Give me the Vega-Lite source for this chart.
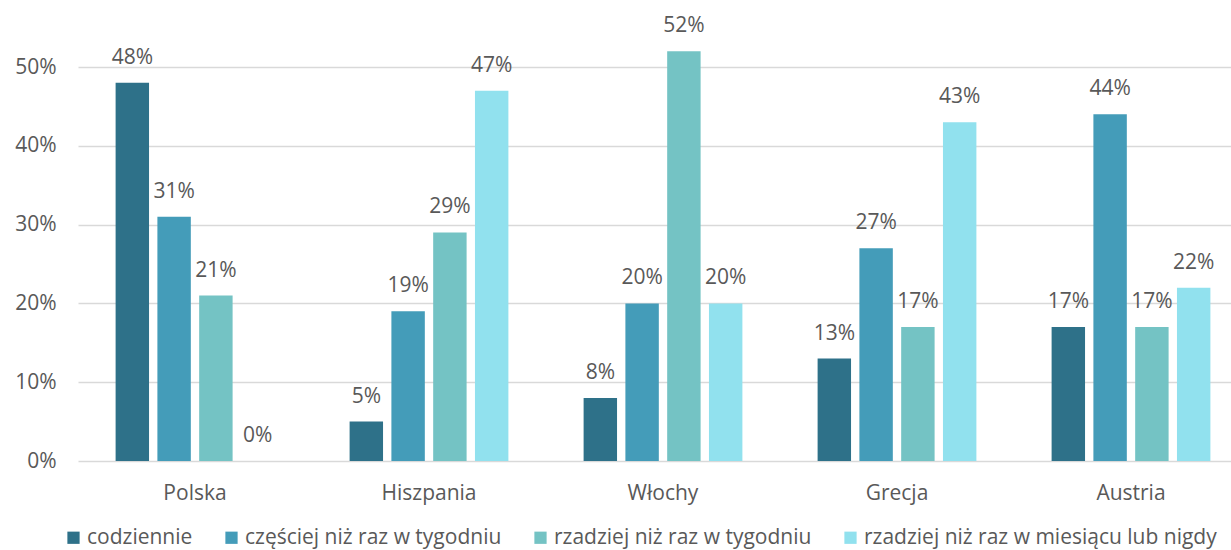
{
  "$schema": "https://vega.github.io/schema/vega-lite/v6.json",
  "autosize": {"type": "none"},
  "padding": {"left": 78, "top": 67, "right": 0, "bottom": 89},
  "width": 1153,
  "height": 394,
  "background": "white",
  "config": {
    "view": {"stroke": null},
    "font": "Open Sans",
    "text": {"font": "Open Sans"}
  },
  "data": {
    "values": [
      {"kraj": "Polska", "kat": "codziennie", "v": 0.48},
      {"kraj": "Polska", "kat": "częściej niż raz w tygodniu", "v": 0.31},
      {"kraj": "Polska", "kat": "rzadziej niż raz w tygodniu", "v": 0.21},
      {"kraj": "Polska", "kat": "rzadziej niż raz w miesiącu lub nigdy", "v": 0.0},
      {"kraj": "Hiszpania", "kat": "codziennie", "v": 0.05},
      {"kraj": "Hiszpania", "kat": "częściej niż raz w tygodniu", "v": 0.19},
      {"kraj": "Hiszpania", "kat": "rzadziej niż raz w tygodniu", "v": 0.29},
      {"kraj": "Hiszpania", "kat": "rzadziej niż raz w miesiącu lub nigdy", "v": 0.47},
      {"kraj": "Włochy", "kat": "codziennie", "v": 0.08},
      {"kraj": "Włochy", "kat": "częściej niż raz w tygodniu", "v": 0.20},
      {"kraj": "Włochy", "kat": "rzadziej niż raz w tygodniu", "v": 0.52},
      {"kraj": "Włochy", "kat": "rzadziej niż raz w miesiącu lub nigdy", "v": 0.20},
      {"kraj": "Grecja", "kat": "codziennie", "v": 0.13},
      {"kraj": "Grecja", "kat": "częściej niż raz w tygodniu", "v": 0.27},
      {"kraj": "Grecja", "kat": "rzadziej niż raz w tygodniu", "v": 0.17},
      {"kraj": "Grecja", "kat": "rzadziej niż raz w miesiącu lub nigdy", "v": 0.43},
      {"kraj": "Austria", "kat": "codziennie", "v": 0.17},
      {"kraj": "Austria", "kat": "częściej niż raz w tygodniu", "v": 0.44},
      {"kraj": "Austria", "kat": "rzadziej niż raz w tygodniu", "v": 0.17},
      {"kraj": "Austria", "kat": "rzadziej niż raz w miesiącu lub nigdy", "v": 0.22}
    ]
  },
  "encoding": {
    "x": {
      "field": "kraj", "type": "nominal",
      "sort": ["Polska", "Hiszpania", "Włochy", "Grecja", "Austria"],
      "scale": {"range": [0, 1170], "paddingInner": 0, "paddingOuter": 0},
      "axis": {"title": null, "labelAngle": 0, "ticks": false, "domain": false, "labelPadding": 21, "labelFontSize": 21, "labelColor": "#595959", "labelFont": "Open Sans"}
    },
    "xOffset": {
      "field": "kat", "type": "nominal",
      "sort": ["codziennie", "częściej niż raz w tygodniu", "rzadziej niż raz w tygodniu", "rzadziej niż raz w miesiącu lub nigdy"],
      "scale": {"paddingInner": 0.2, "paddingOuter": 0.9}
    },
    "y": {
      "field": "v", "type": "quantitative",
      "scale": {"domain": [0, 0.5], "nice": false},
      "axis": {"title": null, "format": ".0%", "values": [0, 0.1, 0.2, 0.3, 0.4, 0.5], "ticks": false, "domain": false, "labelPadding": 22, "labelFontSize": 21, "labelColor": "#595959", "labelFont": "Open Sans", "gridColor": "#D9D9D9", "gridWidth": 1.3}
    }
  },
  "layer": [
    {
      "mark": {"type": "bar"},
      "encoding": {
        "color": {
          "field": "kat", "type": "nominal",
          "sort": ["codziennie", "częściej niż raz w tygodniu", "rzadziej niż raz w tygodniu", "rzadziej niż raz w miesiącu lub nigdy"],
          "scale": {"domain": ["codziennie", "częściej niż raz w tygodniu", "rzadziej niż raz w tygodniu", "rzadziej niż raz w miesiącu lub nigdy"], "range": ["#2E7189", "#449CB9", "#74C3C4", "#91E1EE"]},
          "legend": {
            "title": null, "orient": "none", "direction": "horizontal",
            "legendX": -15, "legendY": 460,
            "symbolType": "square", "symbolSize": 150, "symbolStrokeWidth": 0,
            "labelFontSize": 21, "labelColor": "#595959", "labelFont": "Open Sans",
            "labelOffset": 3, "columnPadding": 28, "labelLimit": 500
          }
        }
      }
    },
    {
      "mark": {"type": "text", "dy": -25, "baseline": "middle", "align": "center", "fontSize": 21, "color": "#595959"},
      "encoding": {
        "text": {"field": "v", "type": "quantitative", "format": ".0%"}
      }
    }
  ]
}
